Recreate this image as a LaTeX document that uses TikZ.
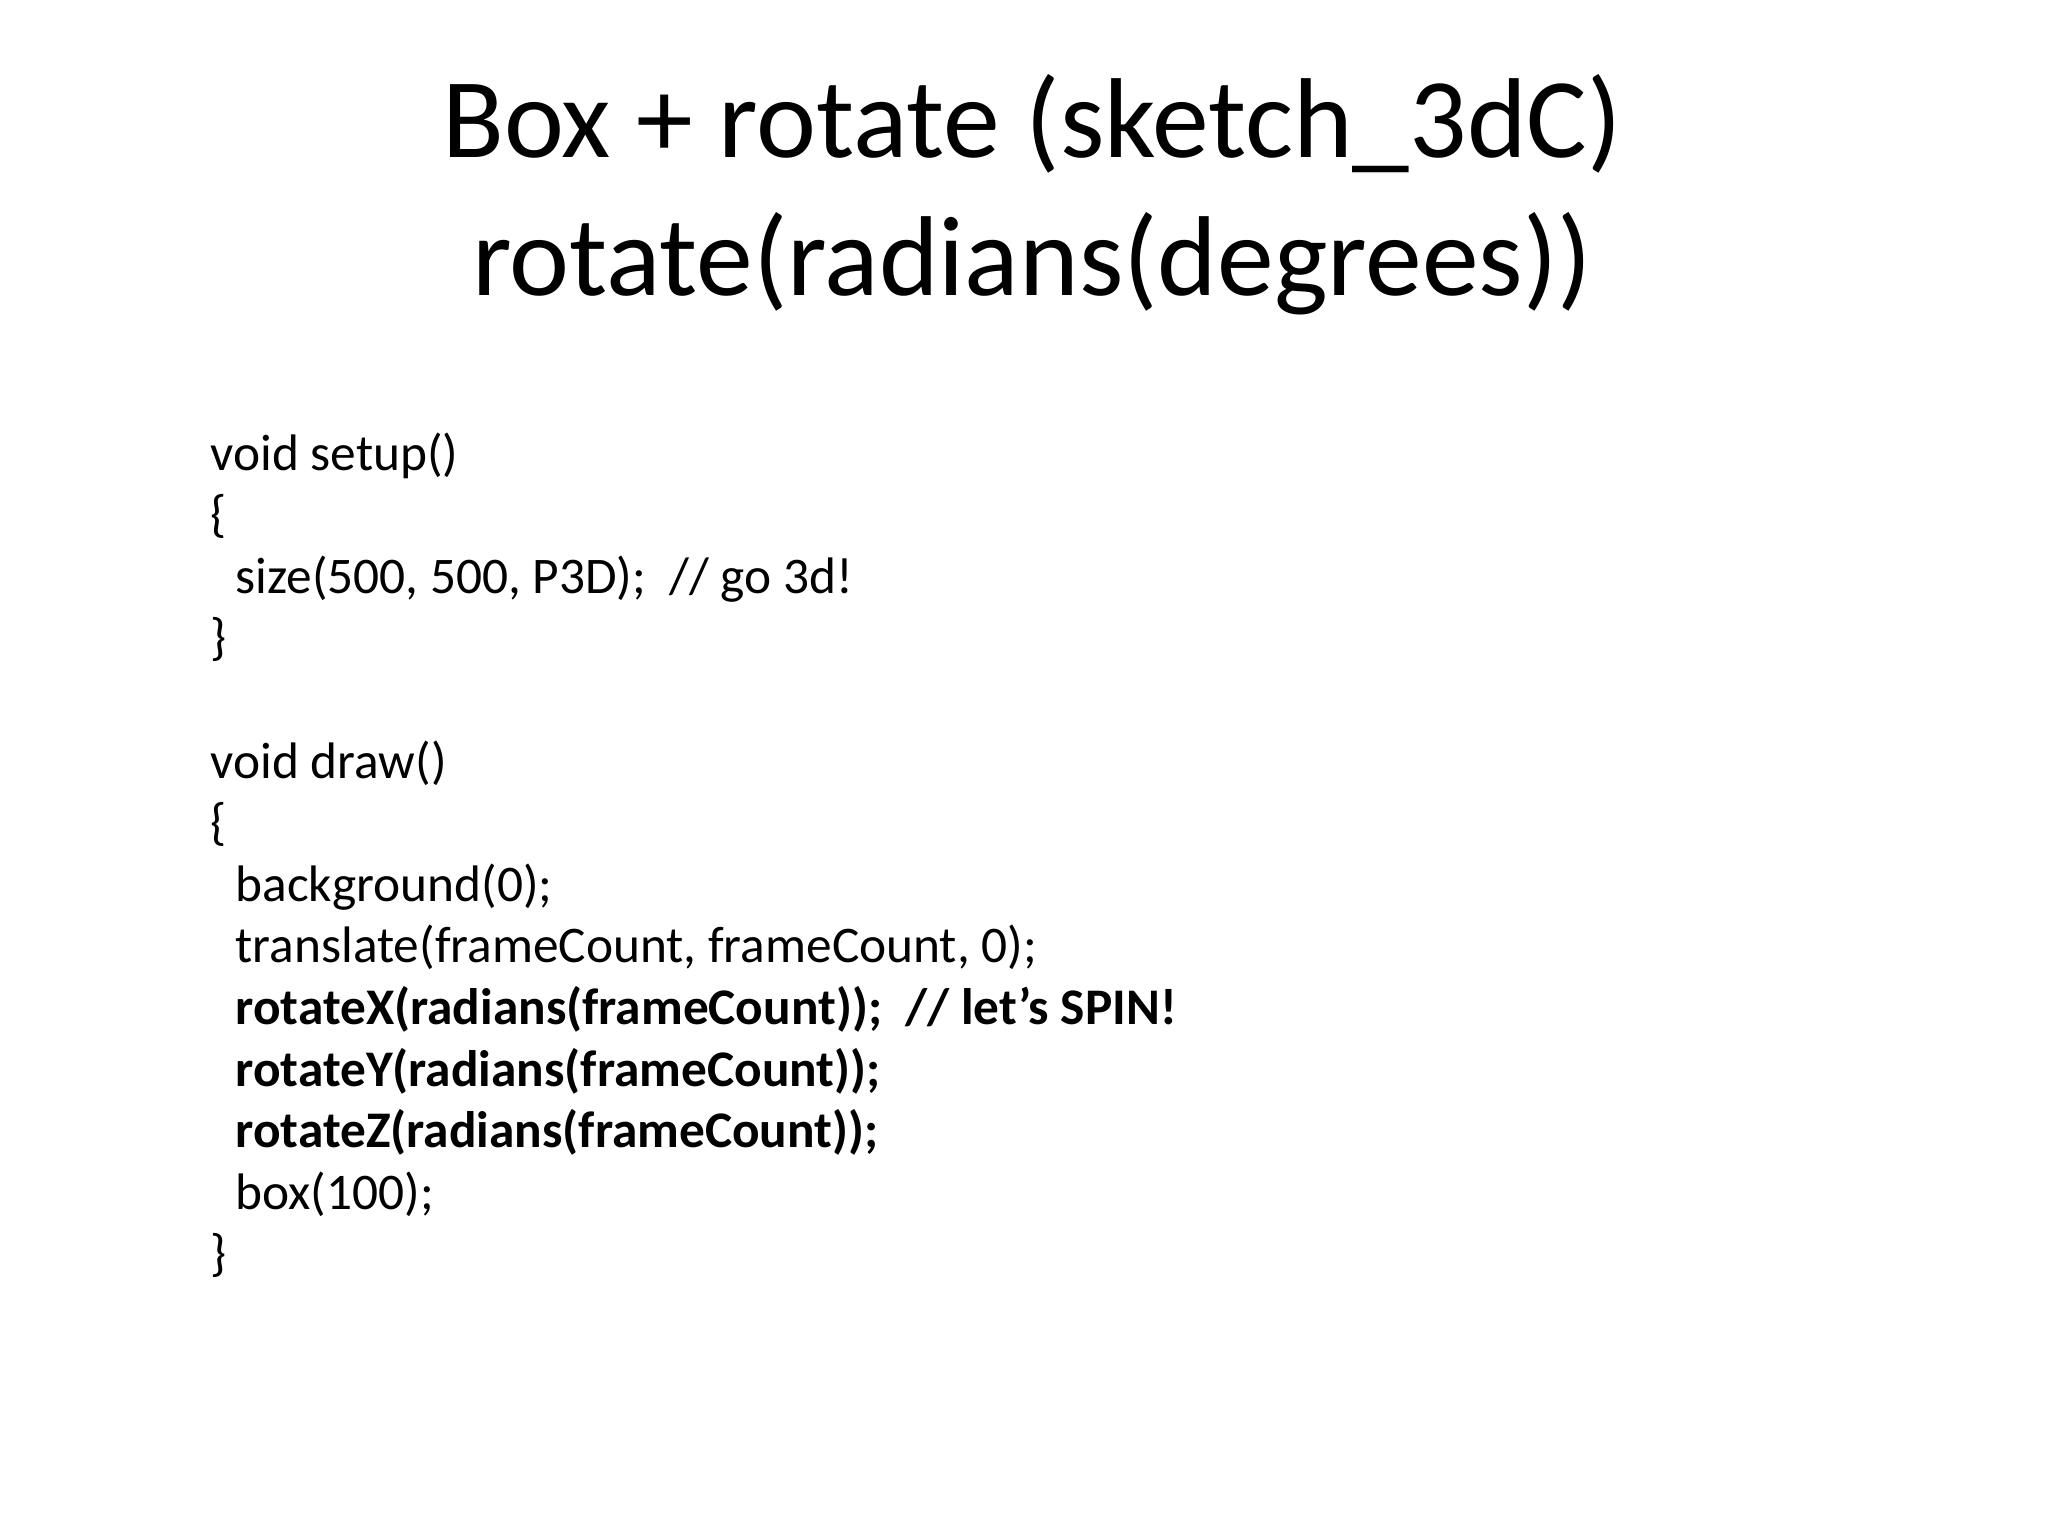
\documentclass[tikz,border=0pt]{standalone}
\usepackage{fontspec}
\setmainfont{Carlito}
\begin{document}
\begin{tikzpicture}[x=0.01cm,y=-0.01cm,
  ttl/.style={anchor=base,inner sep=0,font=\fontsize{32.3pt}{32.3pt}\selectfont},
  code/.style={anchor=base west,inner sep=0,font=\fontsize{14.6pt}{14.6pt}\selectfont}]
\fill[white] (0,0) rectangle (2048,1536);
\useasboundingbox (0,0) rectangle (2048,1536);
\node[ttl] (t1) at (1032,157) {Box + rotate (sketch\_3dC)};
\node[ttl] (t2) at (1032,295) {rotate(radians(degrees))};
\def\dy{61.6}
\node[code] (l0) at (210,470) {void setup()};
\node[code] (l1) at (210,470+1*\dy) {\{};
\node[code] (l2) at (235,470+2*\dy) {size(500, 500, P3D);\ \ // go 3d!};
\node[code] (l3) at (210,470+3*\dy) {\}};
\node[code] (l5) at (210,470+5*\dy) {void draw()};
\node[code] (l6) at (210,470+6*\dy) {\{};
\node[code] (l7) at (235,470+7*\dy) {background(0);};
\node[code] (l8) at (235,470+8*\dy) {translate(frameCount, frameCount, 0);};
\node[code,font=\fontsize{14.6pt}{14.6pt}\selectfont\bfseries] (l9) at (235,470+9*\dy) {rotateX(radians(frameCount));\ \ // let’s SPIN!};
\node[code,font=\fontsize{14.6pt}{14.6pt}\selectfont\bfseries] (l10) at (235,470+10*\dy) {rotateY(radians(frameCount));};
\node[code,font=\fontsize{14.6pt}{14.6pt}\selectfont\bfseries] (l11) at (235,470+11*\dy) {rotateZ(radians(frameCount));};
\node[code] (l12) at (235,470+12*\dy) {box(100);};
\node[code] (l13) at (210,470+13*\dy) {\}};
\end{tikzpicture}
\end{document}
